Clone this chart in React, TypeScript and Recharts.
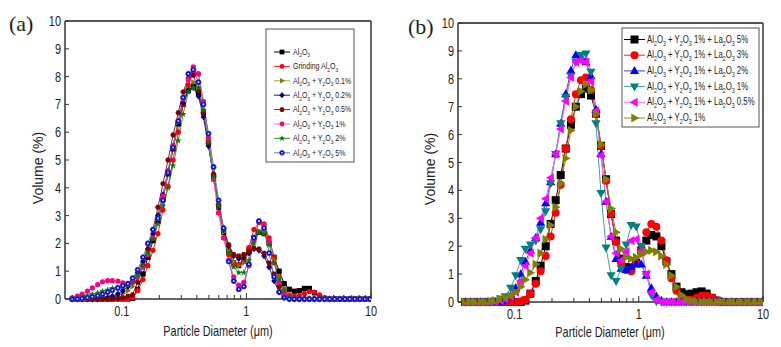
import React from 'react';
import { LineChart, Line, XAxis, YAxis, ReferenceLine } from 'recharts';

// particle size channels (um), log spaced
const diameterUm = [
  0.040, 0.044, 0.048, 0.053, 0.058, 0.064, 0.070, 0.077, 0.084, 0.093,
  0.102, 0.112, 0.122, 0.134, 0.148, 0.162, 0.178, 0.195, 0.214, 0.235,
  0.258, 0.284, 0.311, 0.342, 0.375, 0.412, 0.452, 0.496, 0.545, 0.598,
  0.656, 0.721, 0.791, 0.868, 0.953, 1.047, 1.149, 1.261, 1.385, 1.520,
  1.669, 1.832, 2.011, 2.208, 2.423, 2.660, 2.920, 3.206, 3.519, 3.863,
  4.241, 4.656, 5.111, 5.611, 6.159, 6.761, 7.422, 8.148, 8.944, 9.819,
];

const xMajorTicks = [0.1, 1, 10];
const xMinorTicks = [0.04, 0.05, 0.06, 0.07, 0.08, 0.09, 0.2, 0.3, 0.4, 0.5, 0.6, 0.7, 0.8, 0.9, 2, 3, 4, 5, 6, 7, 8, 9];
const yTicks = [0, 1, 2, 3, 4, 5, 6, 7, 8, 9, 10];

// ---- panel (a) ----
const aAl2O3 = [
  0, 0, 0, 0, 0, 0, 0, 0, 0, 0,
  0, 0, 0.02, 0.35, 0.9, 1.5, 2.1, 2.8, 3.6, 4.5,
  5.4, 6.3, 7.0, 7.5, 7.65, 7.4, 6.7, 5.6, 4.4, 3.3,
  2.4, 1.7, 1.3, 1.2, 1.35, 1.75, 2.2, 2.4, 2.35, 2.0,
  1.5, 1.0, 0.55, 0.35, 0.28, 0.3, 0.38, 0.38, 0.22, 0.08,
  0.02, 0, 0, 0, 0, 0, 0, 0, 0, 0,
];
const aGrinding = [
  0, 0, 0, 0, 0, 0, 0, 0, 0, 0,
  0, 0, 0.05, 0.3, 0.7, 1.2, 1.75, 2.35, 3.2, 4.05,
  5.0, 6.0, 7.0, 7.7, 8.15, 8.1, 7.1, 5.8, 4.3, 3.1,
  2.2, 1.6, 1.25, 1.25, 1.45, 1.85, 2.5, 2.75, 2.7, 2.2,
  1.5, 0.8, 0.35, 0.15, 0.1, 0.12, 0.2, 0.27, 0.25, 0.15,
  0.05, 0, 0, 0, 0, 0, 0, 0, 0, 0,
];
const aY01 = [
  0, 0, 0, 0, 0, 0, 0, 0, 0.02, 0.1,
  0.2, 0.3, 0.45, 0.75, 1.15, 1.6, 2.2, 2.9, 3.7, 4.6,
  5.5, 6.35, 7.05, 7.55, 7.8, 7.55, 6.8, 5.6, 4.4, 3.3,
  2.4, 1.75, 1.35, 1.2, 1.3, 1.7, 2.15, 2.45, 2.4, 2.0,
  1.4, 0.8, 0.35, 0.12, 0.03, 0, 0, 0, 0, 0,
  0, 0, 0, 0, 0, 0, 0, 0, 0, 0,
];
const aY02 = [
  0, 0, 0, 0, 0, 0, 0.02, 0.05, 0.1, 0.18,
  0.3, 0.45, 0.65, 0.95, 1.35, 1.8, 2.35, 3.0, 3.75, 4.6,
  5.5, 6.35, 7.05, 7.5, 7.6, 7.3, 6.55, 5.5, 4.4, 3.35,
  2.5, 1.9, 1.55, 1.45, 1.5, 1.65, 1.8, 1.75, 1.55, 1.15,
  0.65, 0.25, 0.05, 0, 0, 0, 0, 0, 0, 0,
  0, 0, 0, 0, 0, 0, 0, 0, 0, 0,
];
const aY05 = [
  0, 0, 0, 0, 0, 0, 0, 0, 0, 0.02,
  0.05, 0.1, 0.15, 0.6, 1.2, 1.8, 2.5, 3.3, 4.15, 5.0,
  5.9, 6.7, 7.45, 7.95, 8.05, 7.5, 6.7, 5.6, 4.5, 3.4,
  2.55, 1.95, 1.6, 1.55, 1.6, 1.7, 1.83, 1.8, 1.65, 1.3,
  0.9, 0.45, 0.12, 0.02, 0, 0, 0, 0, 0, 0,
  0, 0, 0, 0, 0, 0, 0, 0, 0, 0,
];
const aY1 = [
  0.04, 0.1, 0.18, 0.28, 0.4, 0.52, 0.62, 0.66, 0.66, 0.64,
  0.58, 0.55, 0.6, 0.8, 1.15, 1.6, 2.2, 2.9, 3.7, 4.6,
  5.5, 6.4, 7.2, 7.9, 8.35, 8.1, 7.1, 5.7, 4.3, 3.1,
  2.2, 1.4, 0.8, 0.5, 0.6, 1.2, 2.1, 2.8, 2.65, 2.1,
  1.3, 0.6, 0.2, 0.05, 0, 0, 0, 0, 0, 0,
  0, 0, 0, 0, 0, 0, 0, 0, 0, 0,
];
const aY2 = [
  0.02, 0.05, 0.08, 0.12, 0.17, 0.22, 0.28, 0.33, 0.38, 0.42,
  0.45, 0.5, 0.6, 0.85, 1.2, 1.65, 2.15, 2.7, 3.35, 4.0,
  4.8, 5.7, 6.65, 7.45, 7.6, 7.6, 6.8, 5.65, 4.4, 3.35,
  2.5, 1.65, 1.15, 0.95, 0.95, 1.4, 2.0, 2.4, 2.35, 1.95,
  1.3, 0.7, 0.3, 0.1, 0.02, 0, 0, 0, 0, 0,
  0, 0, 0, 0, 0, 0, 0, 0, 0, 0,
];
const aY5 = [
  0, 0, 0.02, 0.05, 0.08, 0.12, 0.18, 0.25, 0.32, 0.4,
  0.48, 0.55, 0.75, 1.05, 1.5, 2.0, 2.5, 2.9, 3.55, 4.55,
  5.45, 6.4, 7.25, 8.1, 8.25, 7.8, 7.0, 5.95, 4.75, 3.55,
  2.55, 1.35, 0.65, 0.35, 0.45, 1.25, 2.2, 2.8, 2.55, 1.65,
  0.8, 0.25, 0.05, 0, 0, 0, 0, 0, 0, 0,
  0, 0, 0, 0, 0, 0, 0, 0, 0, 0,
];

// ---- panel (b) ----
const bLa5 = [
  0, 0, 0, 0, 0, 0, 0, 0, 0, 0,
  0, 0, 0.05, 0.3, 0.75, 1.3, 2.0, 2.8, 3.65, 4.55,
  5.5, 6.35, 7.0, 7.45, 7.65, 7.4, 6.75, 5.6, 4.4, 3.15,
  2.2, 1.55, 1.25, 1.2, 1.4, 1.85, 2.2, 2.4, 2.35, 2.0,
  1.45, 1.0, 0.55, 0.35, 0.28, 0.3, 0.35, 0.38, 0.3, 0.15,
  0.05, 0, 0, 0, 0, 0, 0, 0, 0, 0,
];
const bLa3 = [
  0, 0, 0, 0, 0, 0, 0, 0, 0, 0,
  0, 0.03, 0.08, 0.3, 0.65, 1.1, 1.65, 2.35, 3.2, 4.2,
  5.5, 6.55, 7.45, 7.95, 8.05, 7.6, 6.75, 5.6, 4.35, 3.15,
  2.15, 1.4, 1.15, 1.1, 1.4, 1.85, 2.5, 2.8, 2.7, 2.2,
  1.5, 0.85, 0.4, 0.15, 0.08, 0.08, 0.15, 0.22, 0.22, 0.15,
  0.06, 0.02, 0, 0, 0, 0, 0, 0, 0, 0,
];
const bLa2 = [
  0, 0, 0, 0, 0, 0, 0, 0, 0.05, 0.2,
  0.5, 1.0, 1.45, 1.85, 2.3, 2.85, 3.55, 4.3, 5.3, 6.4,
  7.45, 8.3, 8.85, 8.8, 8.6, 8.1, 6.9, 5.3, 3.6, 2.35,
  1.55, 1.2, 1.15, 1.25, 1.35, 1.35, 0.95, 0.5, 0.2, 0.05,
  0, 0, 0, 0, 0, 0, 0, 0, 0, 0,
  0, 0, 0, 0, 0, 0, 0, 0, 0, 0,
];
const bLa1 = [
  0, 0, 0, 0, 0, 0, 0.05, 0.12, 0.2, 0.5,
  0.95, 1.5, 1.9, 2.05, 2.2, 2.6, 3.25, 4.25, 5.3, 6.4,
  7.35, 8.1, 8.6, 8.85, 8.9, 8.25, 6.4, 3.9, 1.95, 0.95,
  0.75, 1.2, 2.05, 2.75, 2.7, 2.0, 1.0, 0.25, 0.02, 0,
  0, 0, 0, 0, 0, 0, 0, 0, 0, 0,
  0, 0, 0, 0, 0, 0, 0, 0, 0, 0,
];
const bLa05 = [
  0, 0, 0, 0, 0, 0, 0, 0.05, 0.1, 0.2,
  0.35, 0.75, 1.3, 1.75, 2.3, 3.0, 3.7, 4.45, 5.3, 6.2,
  7.2, 8.05, 8.6, 8.65, 8.6, 7.9, 6.85, 5.25, 3.6, 2.35,
  1.75, 1.5, 1.8, 2.2, 2.25, 1.8, 1.0, 0.35, 0.08, 0,
  0, 0, 0, 0, 0, 0, 0, 0, 0, 0,
  0, 0, 0, 0, 0, 0, 0, 0, 0, 0,
];
const bY1 = [
  0, 0, 0, 0, 0, 0.02, 0.05, 0.1, 0.15, 0.22,
  0.35, 0.55, 0.8, 1.05, 1.35, 1.75, 2.25, 2.75, 3.4, 4.25,
  5.15, 6.15, 7.0, 7.55, 7.8, 7.6, 6.75, 5.65, 4.4, 3.35,
  2.5, 1.9, 1.6, 1.55, 1.6, 1.7, 1.8, 1.85, 1.8, 1.65,
  1.35, 0.95, 0.55, 0.25, 0.1, 0.05, 0.02, 0, 0, 0,
  0, 0, 0, 0, 0, 0, 0, 0, 0, 0,
];

const SANS = "'Liberation Sans', Arial, Helvetica, sans-serif";
const SERIF = "'Liberation Serif', 'Times New Roman', serif";
const SQUASH = 0.78;
const AXIS = '#333';

type Shape = 'square' | 'circle' | 'triUp' | 'triDown' | 'triLeft' | 'triRight' | 'diamond' | 'hexagon' | 'star' | 'dotCircle';
type Series = { label: string; values: number[]; shape: Shape; fill: string; line: string };

const seriesA: Series[] = [
  { label: 'Al_2O_3', values: aAl2O3, shape: 'square', fill: '#000000', line: '#000000' },
  { label: 'Grinding Al_2O_3', values: aGrinding, shape: 'circle', fill: '#ff0000', line: '#ff2020' },
  { label: 'Al_2O_3 + Y_2O_3 0.1%', values: aY01, shape: 'triRight', fill: '#7a7a00', line: '#a8a848' },
  { label: 'Al_2O_3 + Y_2O_3 0.2%', values: aY02, shape: 'diamond', fill: '#000080', line: '#1a1a8a' },
  { label: 'Al_2O_3 + Y_2O_3 0.5%', values: aY05, shape: 'hexagon', fill: '#800000', line: '#902020' },
  { label: 'Al_2O_3 + Y_2O_3 1%', values: aY1, shape: 'circle', fill: '#ff0080', line: '#ff6aa8' },
  { label: 'Al_2O_3 + Y_2O_3 2%', values: aY2, shape: 'star', fill: '#008000', line: '#3a9a3a' },
  { label: 'Al_2O_3 + Y_2O_3 5%', values: aY5, shape: 'dotCircle', fill: '#0000a0', line: '#6a6ad8' },
];

const seriesB: Series[] = [
  { label: 'Al_2O_3 + Y_2O_3 1% + La_2O_3 5%', values: bLa5, shape: 'square', fill: '#000000', line: '#000000' },
  { label: 'Al_2O_3 + Y_2O_3 1% + La_2O_3 3%', values: bLa3, shape: 'circle', fill: '#ff0000', line: '#ff2020' },
  { label: 'Al_2O_3 + Y_2O_3 1% + La_2O_3 2%', values: bLa2, shape: 'triUp', fill: '#0000ff', line: '#3a3aff' },
  { label: 'Al_2O_3 + Y_2O_3 1% + La_2O_3 1%', values: bLa1, shape: 'triDown', fill: '#008080', line: '#40a0a0' },
  { label: 'Al_2O_3 + Y_2O_3 1% + La_2O_3 0.5%', values: bLa05, shape: 'triLeft', fill: '#ff00ff', line: '#ff66ff' },
  { label: 'Al_2O_3 + Y_2O_3 1%', values: bY1, shape: 'triRight', fill: '#808000', line: '#8a8a20' },
];

function Marker({ shape, x, y, s, fill }: { shape: Shape; x: number; y: number; s: number; fill: string }) {
  if (x == null || y == null) return null;
  const pts = (arr: number[][]) => arr.map(([px, py]) => `${x + px},${y + py}`).join(' ');
  switch (shape) {
    case 'square':
      return <rect x={x - s} y={y - s} width={2 * s} height={2 * s} fill={fill} />;
    case 'circle':
      return <circle cx={x} cy={y} r={s} fill={fill} />;
    case 'triUp':
      return <polygon points={pts([[0, -s * 1.2], [s * 1.15, s * 0.8], [-s * 1.15, s * 0.8]])} fill={fill} />;
    case 'triDown':
      return <polygon points={pts([[0, s * 1.2], [s * 1.15, -s * 0.8], [-s * 1.15, -s * 0.8]])} fill={fill} />;
    case 'triLeft':
      return <polygon points={pts([[-s * 1.2, 0], [s * 0.8, -s * 1.15], [s * 0.8, s * 1.15]])} fill={fill} />;
    case 'triRight':
      return <polygon points={pts([[s * 1.2, 0], [-s * 0.8, -s * 1.15], [-s * 0.8, s * 1.15]])} fill={fill} />;
    case 'diamond':
      return <polygon points={pts([[0, -s * 1.3], [s * 1.1, 0], [0, s * 1.3], [-s * 1.1, 0]])} fill={fill} />;
    case 'hexagon': {
      const r = s * 1.1;
      const hex = [0, 1, 2, 3, 4, 5].map((k) => [r * Math.cos((Math.PI / 3) * k), r * Math.sin((Math.PI / 3) * k)]);
      return <polygon points={pts(hex)} fill={fill} />;
    }
    case 'star': {
      const star = Array.from({ length: 10 }, (_, k) => {
        const rr = k % 2 === 0 ? s * 1.35 : s * 0.55;
        const a = -Math.PI / 2 + (Math.PI / 5) * k;
        return [rr * Math.cos(a), rr * Math.sin(a)];
      });
      return <polygon points={pts(star)} fill={fill} />;
    }
    case 'dotCircle':
      return (
        <g>
          <circle cx={x} cy={y} r={s} fill={fill} stroke="#3a3aff" strokeWidth={0.8} />
          <circle cx={x} cy={y} r={s * 0.4} fill="#d0d0ff" />
        </g>
      );
    default:
      return null;
  }
}

// chemical formula with "_n" subscripts
function Formula({ text, size }: { text: string; size: number }) {
  const parts = text.split(/_(\d)/);
  const shift = size * 0.3;
  let down = false;
  return (
    <>
      {parts.map((p, i) => {
        if (i % 2 === 1) {
          down = true;
          return <tspan key={i} dy={shift} fontSize={size * 0.68}>{p}</tspan>;
        }
        const dy = down ? -shift : 0;
        down = false;
        return p === '' && dy === 0 ? null : <tspan key={i} dy={dy}>{p}</tspan>;
      })}
    </>
  );
}

function SqText({ x, y, size, anchor = 'start', children, family = SANS, k = SQUASH }: any) {
  return (
    <text transform={`translate(${x},${y}) scale(${k},1)`} fontSize={size} fontFamily={family} textAnchor={anchor} fill="#222">
      {children}
    </text>
  );
}

const LogTick = (props: any) => {
  const { x, y, payload } = props;
  const major = xMajorTicks.includes(payload.value);
  return (
    <g>
      <line x1={x} x2={x} y1={y} y2={y - (major ? 6 : 4)} stroke={AXIS} strokeWidth={1} />
      {major && <SqText x={x} y={y + 17} size={14} anchor="middle">{String(payload.value)}</SqText>}
    </g>
  );
};

const VolTick = (props: any) => {
  const { x, y, payload } = props;
  return (
    <g>
      <line x1={x} x2={x + 4} y1={y} y2={y} stroke={AXIS} strokeWidth={1} />
      <SqText x={x - 4} y={y + 5} size={14} anchor="end">{String(payload.value)}</SqText>
    </g>
  );
};

function buildRows(series: Series[]) {
  return diameterUm.map((d, i) => {
    const row: Record<string, number> = { d };
    series.forEach((s, j) => { row['s' + j] = s.values[i]; });
    return row;
  });
}

function Panel({ series, width, margin, yWidth, xHeight, markerSize }: any) {
  const rows = buildRows(series);
  return (
    <LineChart width={width} height={347} data={rows} margin={margin}>
      <XAxis
        dataKey="d"
        type="number"
        scale="log"
        domain={[0.035, 10]}
        allowDataOverflow
        ticks={[...xMinorTicks, ...xMajorTicks].sort((p, q) => p - q)}
        interval={0}
        tick={LogTick}
        tickLine={false}
        tickSize={0}
        tickMargin={0}
        height={xHeight}
        axisLine={{ stroke: AXIS, strokeWidth: 1.5 }}
      />
      <YAxis
        type="number"
        domain={[0, 10]}
        ticks={yTicks}
        interval={0}
        tick={VolTick}
        tickLine={false}
        tickSize={0}
        tickMargin={0}
        width={yWidth}
        axisLine={{ stroke: AXIS, strokeWidth: 1.5 }}
      />
      <ReferenceLine y={10} stroke="#555" strokeWidth={1.8} />
      <ReferenceLine x={10} stroke="#555" strokeWidth={1.8} />
      {series.map((s: Series, j: number) => (
        <Line
          key={j}
          dataKey={'s' + j}
          type="linear"
          stroke={s.line}
          strokeWidth={1}
          isAnimationActive={false}
          activeDot={false}
          dot={(p: any) => <Marker key={`m${j}-${p.index}`} shape={s.shape} x={p.cx} y={p.cy} s={markerSize} fill={s.fill} />}
        />
      ))}
    </LineChart>
  );
}

function LegendBox({ series, x, y, w, h, rowY, step, lineX1, lineX2, textX, size, markerSize }: any) {
  return (
    <g>
      <rect x={x} y={y} width={w} height={h} fill="#fff" stroke="#555" strokeWidth={1} />
      {series.map((s: Series, i: number) => {
        const cy = rowY + i * step;
        return (
          <g key={i}>
            <line x1={lineX1} x2={lineX2} y1={cy} y2={cy} stroke={s.line} strokeWidth={1} />
            <Marker shape={s.shape} x={(lineX1 + lineX2) / 2} y={cy} s={markerSize} fill={s.fill} />
            <SqText x={textX} y={cy + size * 0.3} size={size}>
              <Formula text={s.label} size={size} />
            </SqText>
          </g>
        );
      })}
    </g>
  );
}

export default function App() {
  return (
    <div style={{ position: 'absolute', left: 0, top: 0, width: 781, height: 347, background: '#fff', overflow: 'hidden' }}>
      <div style={{ position: 'absolute', left: 0, top: 0 }}>
        <Panel series={seriesA} width={390} margin={{ top: 21, right: 19, bottom: 0, left: 0 }} yWidth={65} xHeight={48} markerSize={2.6} />
      </div>
      <div style={{ position: 'absolute', left: 390, top: 0 }}>
        <Panel series={seriesB} width={391} margin={{ top: 23, right: 18, bottom: 0, left: 0 }} yWidth={68} xHeight={45} markerSize={4} />
      </div>
      <svg width={781} height={347} style={{ position: 'absolute', left: 0, top: 0, pointerEvents: 'none' }}>
        <text x={9} y={31} fontSize={22} fontFamily={SERIF} fill="#222">(a)</text>
        <text x={408} y={34} fontSize={22} fontFamily={SERIF} fill="#222">(b)</text>

        <text transform="translate(43,168) rotate(-90)" fontSize={14} fontFamily={SANS} textAnchor="middle" fill="#222">Volume (%)</text>
        <text transform="translate(435,169) rotate(-90)" fontSize={14} fontFamily={SANS} textAnchor="middle" fill="#222">Volume (%)</text>
        <SqText x={218} y={336} size={14} anchor="middle">Particle Diameter (μm)</SqText>
        <SqText x={610} y={337} size={14} anchor="middle">Particle Diameter (μm)</SqText>

        <LegendBox series={seriesA} x={266} y={29} w={88} h={133} rowY={52} step={14.4}
          lineX1={274} lineX2={290} textX={293} size={9} markerSize={2.4} />
        <LegendBox series={seriesB} x={622} y={28} w={137} h={99} rowY={39.5} step={15.7}
          lineX1={624} lineX2={645} textX={647} size={10} markerSize={4} />
      </svg>
    </div>
  );
}
